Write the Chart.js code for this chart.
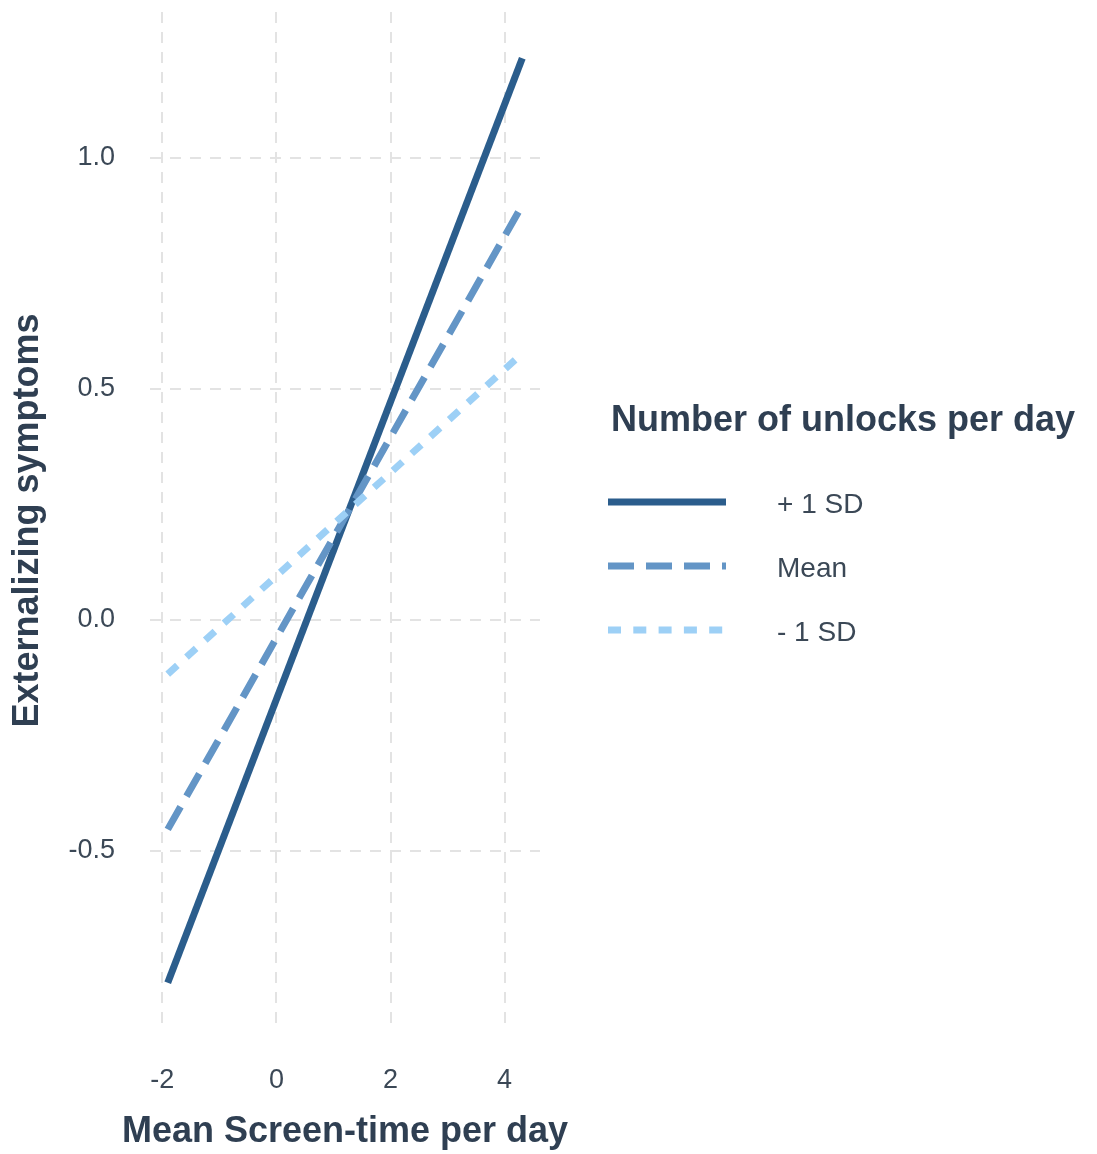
<!DOCTYPE html>
<html>
<head>
<meta charset="utf-8">
<title>Externalizing symptoms by screen-time</title>
<script src="https://cdn.jsdelivr.net/npm/chart.js@4.4.1/dist/chart.umd.min.js"></script>
<style>
  html, body { margin: 0; padding: 0; background: #ffffff; }
  #wrap { width: 1097px; height: 1154px; position: relative; }
</style>
</head>
<body>
<div id="wrap"><canvas id="chart" width="1097" height="1154"></canvas></div>
<script>
// Predicted externalizing symptoms at the two ends of the screen-time range
const screenTime = [-1.906, 4.31];
const plusOneSD  = [-0.786, 1.215];
const meanLevel  = [-0.454, 0.897];
const minusOneSD = [-0.118, 0.576];

const seriesLabels = ['+ 1 SD', 'Mean', '- 1 SD'];
const xTicks = [-2, 0, 2, 4];
const yTicks = [-0.5, 0.0, 0.5, 1.0];

const xTitle = 'Mean Screen-time per day';
const yTitle = 'Externalizing symptoms';
const legendTitle = 'Number of unlocks per day';

const FONT = '"Liberation Sans", Arial, Helvetica, sans-serif';
const TITLE_COLOR = '#2f3f52';
const TICK_COLOR = '#3b4856';
const GRID_COLOR = '#e3e3e3';
const TITLE_FONT = 'bold 36px ' + FONT;

function points(ys) {
  return screenTime.map((x, i) => ({ x: x, y: ys[i] }));
}

// 5% expansion around the data range on both axes
function expanded(vals) {
  const lo = Math.min(...vals), hi = Math.max(...vals);
  const pad = (hi - lo) * 0.05;
  return { min: lo - pad, max: hi + pad };
}
const xr = expanded(screenTime);
const yr = expanded([...plusOneSD, ...meanLevel, ...minusOneSD]);

const styles = [
  { color: '#2b5d8c', dash: [],         order: 2 },
  { color: '#6395c6', dash: [26, 12],   order: 1 },
  { color: '#9dd0f6', dash: [13, 12.3], order: 0 }
];
const seriesValues = [plusOneSD, meanLevel, minusOneSD];

const datasets = seriesLabels.map((label, i) => ({
  label: label,
  data: points(seriesValues[i]),
  showLine: true,
  borderColor: styles[i].color,
  backgroundColor: styles[i].color,
  borderWidth: 7,
  borderDash: styles[i].dash,
  borderCapStyle: 'butt',
  pointRadius: 0,
  pointHoverRadius: 0,
  order: styles[i].order
}));

// Axis titles and the side legend
const annotations = {
  id: 'annotations',
  afterDraw(chart) {
    const ctx = chart.ctx;
    const area = chart.chartArea;
    ctx.save();
    ctx.fillStyle = TITLE_COLOR;
    ctx.font = TITLE_FONT;
    ctx.textBaseline = 'alphabetic';

    // x-axis title
    ctx.textAlign = 'center';
    ctx.fillText(xTitle, (area.left + area.right) / 2, 1142);

    // y-axis title, reading upwards
    ctx.save();
    ctx.translate(38, (area.top + area.bottom) / 2);
    ctx.rotate(-Math.PI / 2);
    ctx.fillText(yTitle, 0, 0);
    ctx.restore();

    // legend
    ctx.textAlign = 'left';
    ctx.fillText(legendTitle, 611, 431);

    chart.data.datasets.forEach((ds, i) => {
      const y = 502 + i * 64;
      ctx.save();
      ctx.strokeStyle = ds.borderColor;
      ctx.lineWidth = ds.borderWidth;
      ctx.lineCap = 'butt';
      ctx.setLineDash(ds.borderDash);
      ctx.beginPath();
      ctx.moveTo(608, y);
      ctx.lineTo(726, y);
      ctx.stroke();
      ctx.restore();

      ctx.fillStyle = TICK_COLOR;
      ctx.font = '28px ' + FONT;
      ctx.textBaseline = 'alphabetic';
      ctx.fillText(ds.label, 777, y + 11);
    });
    ctx.restore();
  }
};

new Chart(document.getElementById('chart'), {
  type: 'scatter',
  data: { datasets: datasets },
  options: {
    responsive: false,
    animation: false,
    events: [],
    layout: { padding: { left: 0, right: 557, top: 12, bottom: 0 } },
    plugins: {
      legend: { display: false },
      tooltip: { enabled: false }
    },
    scales: {
      x: {
        type: 'linear',
        min: xr.min,
        max: xr.max,
        afterBuildTicks: (scale) => { scale.ticks = xTicks.map(v => ({ value: v })); },
        afterFit: (scale) => {
          scale.height = 125;
          scale.paddingLeft = scale.paddingRight = 0;
          scale.paddingTop = scale.paddingBottom = 0;
        },
        ticks: {
          color: TICK_COLOR,
          font: { family: FONT, size: 27 },
          padding: 35,
          maxRotation: 0,
          callback: (v) => String(v)
        },
        grid: { color: GRID_COLOR, lineWidth: 2, drawTicks: false },
        border: { display: false, dash: [11, 9] },
        title: { display: false }
      },
      y: {
        type: 'linear',
        min: yr.min,
        max: yr.max,
        afterBuildTicks: (scale) => { scale.ticks = yTicks.map(v => ({ value: v })); },
        afterFit: (scale) => {
          scale.width = 150;
          scale.paddingLeft = scale.paddingRight = 0;
          scale.paddingTop = scale.paddingBottom = 0;
        },
        ticks: {
          color: TICK_COLOR,
          font: { family: FONT, size: 27 },
          padding: 35,
          callback: (v) => Number(v).toFixed(1)
        },
        grid: { color: GRID_COLOR, lineWidth: 2, drawTicks: false },
        border: { display: false, dash: [11, 9] },
        title: { display: false }
      }
    }
  },
  plugins: [annotations]
});
</script>
</body>
</html>
